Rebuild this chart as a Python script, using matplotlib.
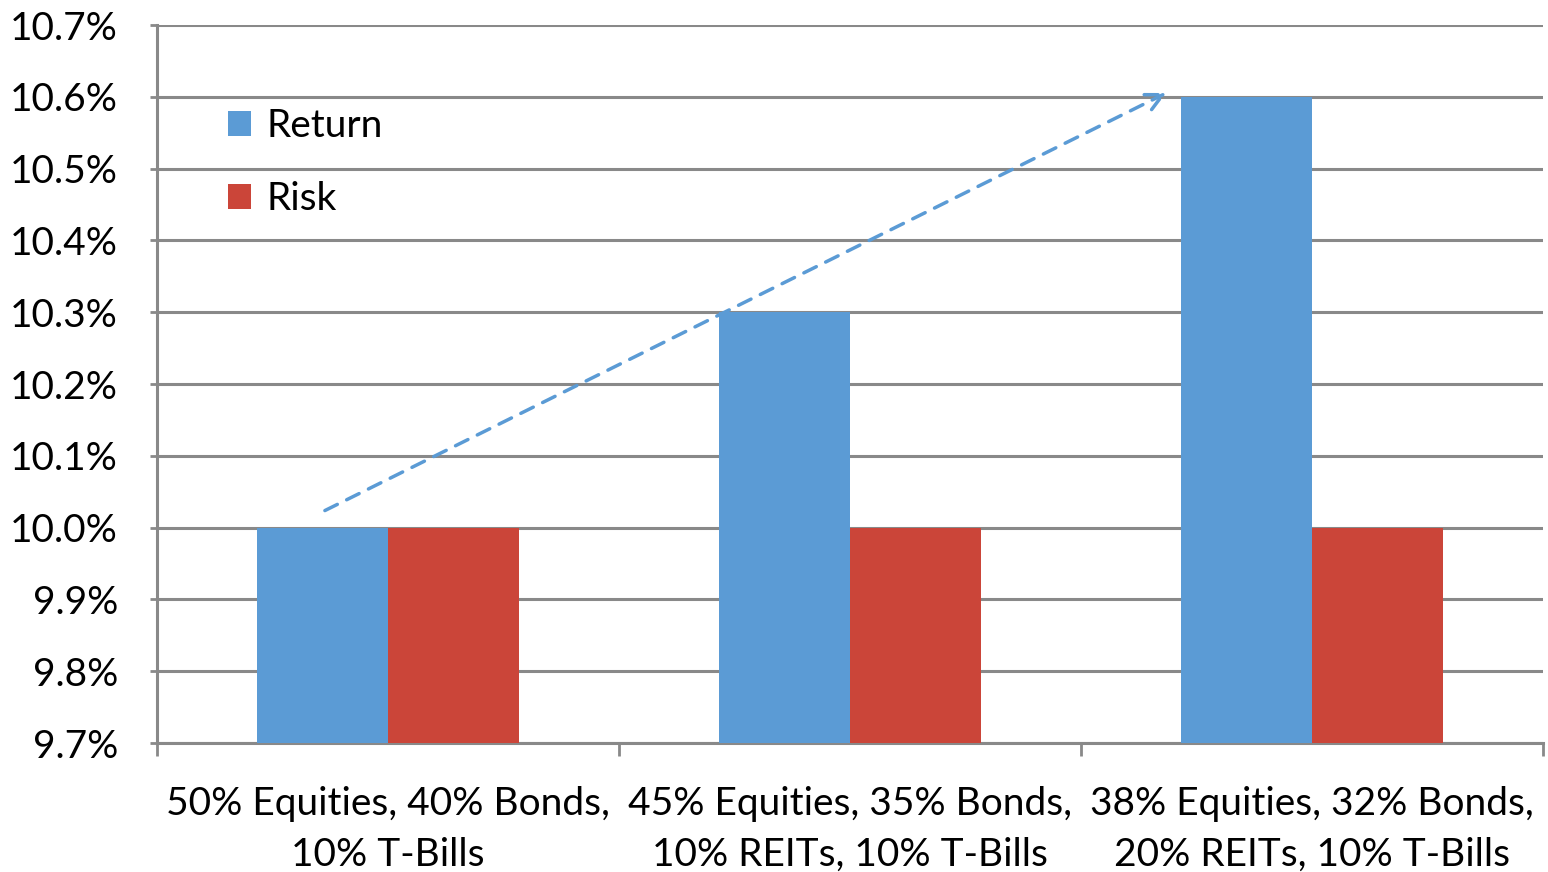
import numpy as np
import matplotlib
matplotlib.use('Agg')
import matplotlib.pyplot as plt

# Portfolio mixes and their return / risk (percent)
portfolios = ['50% Equities, 40% Bonds,\n10% T-Bills',
              '45% Equities, 35% Bonds,\n10% REITs, 10% T-Bills',
              '38% Equities, 32% Bonds,\n20% REITs, 10% T-Bills']
returns = [10.0, 10.3, 10.6]
risks = [10.0, 10.0, 10.0]
y_ticks = [9.7, 9.8, 9.9, 10.0, 10.1, 10.2, 10.3, 10.4, 10.5, 10.6, 10.7]

plt.rcParams['font.family'] = ['Lato', 'DejaVu Sans']
grid_col = '#898989'
fs = 28

fig = plt.figure(figsize=(15.48, 8.72), dpi=100)
ax = fig.add_axes([157 / 1548, 1 - 743 / 872, 1386 / 1548, 718 / 872])

x = np.arange(len(portfolios))
w = 0.284
ax.bar(x - w / 2, [r - 9.7 for r in returns], w, bottom=9.7, color='#5B9BD5', label='Return', zorder=3)
ax.bar(x + w / 2, [r - 9.7 for r in risks], w, bottom=9.7, color='#CB4539', label='Risk', zorder=3)

ax.set_xlim(-0.5, len(portfolios) - 0.5)
ax.set_ylim(9.7, 10.7)
ax.set_yticks(y_ticks)
ax.set_yticklabels([f'{v:.1f}%' for v in y_ticks], fontsize=fs)
ax.yaxis.grid(True, color=grid_col, linewidth=2.2, zorder=0)

# category labels centred, tick marks on group boundaries
ax.set_xticks(x)
ax.set_xticklabels(portfolios, fontsize=fs, linespacing=1.5)
ax.tick_params(axis='x', length=0, pad=31)
ax.set_xticks(np.arange(len(portfolios) + 1) - 0.5, minor=True)
ax.tick_params(axis='x', which='minor', length=9, width=2, color=grid_col)
ax.tick_params(axis='y', length=5, width=2, color=grid_col, pad=23)

for s in ['top', 'right']:
    ax.spines[s].set_visible(False)
for s in ['left', 'bottom']:
    ax.spines[s].set_color(grid_col)
    ax.spines[s].set_linewidth(2.2)

# dashed trend arrow from first return bar up to the last one
ax.annotate('', xy=(1.69, 10.607), xytext=(-0.142, 10.022),
            arrowprops=dict(arrowstyle='->', color='#5B9BD5', lw=2.5,
                            linestyle=(0, (4, 3)), mutation_scale=30), zorder=4)

ax.legend(loc='upper left', bbox_to_anchor=(0.026, 0.933), frameon=False, fontsize=fs,
          handlelength=0.6, handleheight=0.6, handletextpad=0.4, labelspacing=0.95)

fig.savefig('out.png', dpi=100)
